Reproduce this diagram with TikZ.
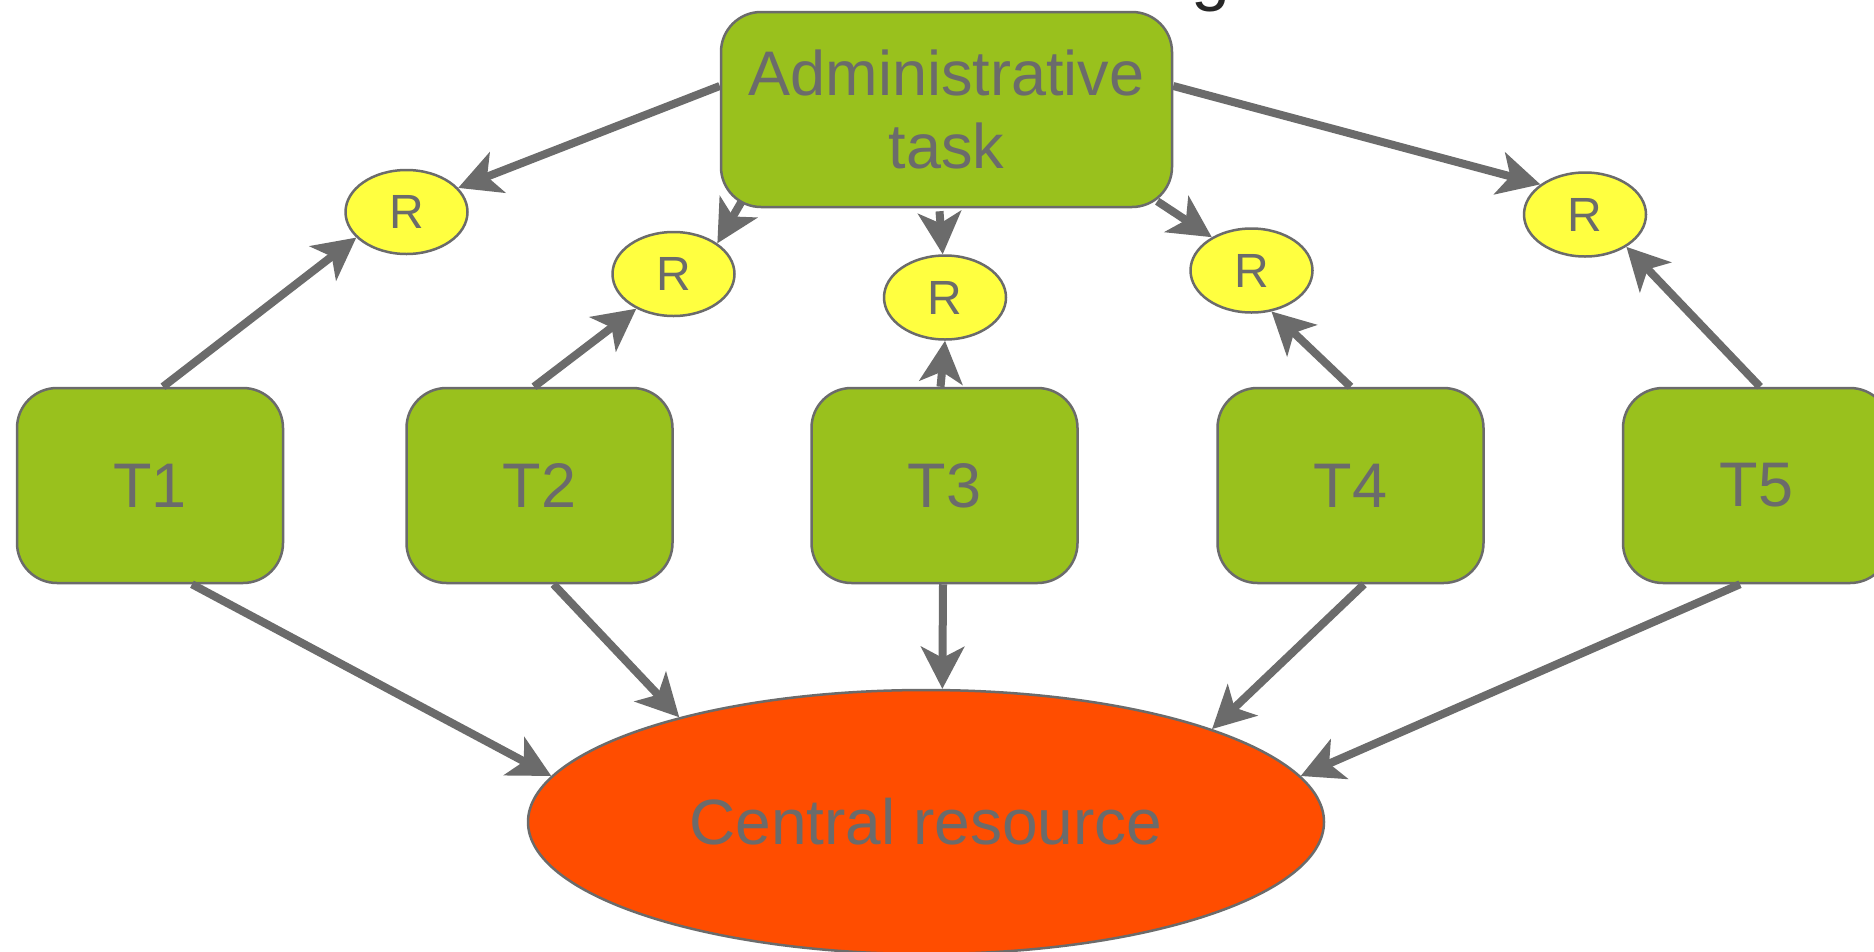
\documentclass[tikz,border=0pt]{standalone}
\usepackage{fontspec}
\setmainfont{Liberation Sans}
\usetikzlibrary{arrows.meta,shapes.geometric}
\definecolor{tgreen}{HTML}{99C11D}
\definecolor{ryellow}{HTML}{FFFF40}
\definecolor{corange}{HTML}{FF4D00}
\definecolor{dgray}{HTML}{6B6B6B}
\begin{document}
\begin{tikzpicture}[x=1pt,y=-1pt,
  task/.style={draw=dgray, line width=2.5pt, fill=tgreen, rounded corners=40pt,
    minimum width=266pt, minimum height=195pt, inner sep=0pt, text=dgray,
    font=\fontsize{63}{73}\selectfont},
  res/.style={ellipse, draw=dgray, line width=2.5pt, fill=ryellow,
    minimum width=122pt, minimum height=84pt, inner sep=0pt, text=dgray,
    font=\fontsize{48}{56}\selectfont},
  central/.style={ellipse, draw=dgray, line width=2.5pt, fill=corange,
    minimum width=796pt, minimum height=264pt, inner sep=0pt, text=dgray,
    font=\fontsize{64}{74}\selectfont},
  arr/.style={draw=dgray, line width=8pt,
    -{Stealth[length=42pt,width=43pt,inset=11pt]}}]
\useasboundingbox (0,0) rectangle (1874,951);
\fill[white] (0,0) rectangle (1874,951);
\node[text=black!85, font=\fontsize{70}{80}\selectfont, anchor=base] (ttl) at (1211,-3) {g};
% nodes
\node[task, minimum width=451pt, align=center] (A) at (946.5,109.5) {Administrative\\task};
\node[task] (T1) at (150,485.5) {T1};
\node[task] (T2) at (539.5,485.5) {T2};
\node[task] (T3) at (944.5,485.5) {T3};
\node[task] (T4) at (1350.5,485.5) {T4};
\node[task, minimum width=267pt] (T5) at (1756.5,485.5) {T5};
\node[res] (R1) at (406.5,212) {R};
\node[res] (R2) at (673.5,274) {R};
\node[res] (R3) at (945,297.5) {R};
\node[res] (R4) at (1251.5,270.5) {R};
\node[res] (R5) at (1585,214.5) {R};
\node[central] (C) at (926,822) {Central resource};
% arrows
\draw[arr] ([yshift=23.5pt]A.west) -- (R1.25);
\draw[arr] ([xshift=13pt]T1.north) -- (R1.207);
\draw[arr] ([xshift=22pt,yshift=7pt]A.south west) -- (R2.35);
\draw[arr] ([xshift=-5.5pt]T2.north) -- (R2.223);
\draw[arr] ([xshift=-7pt,yshift=-3pt]A.south) -- (R3.93);
\draw[arr] ([xshift=-4pt]T3.north) -- (R3.270);
\draw[arr] ([xshift=-16pt,yshift=7pt]A.south east) -- (R4.140);
\draw[arr] (T4.north) -- (R4.296);
\draw[arr] ([yshift=23.5pt]A.east) -- (R5.146);
\draw[arr] ([xshift=3.5pt]T5.north) -- (R5.322);
\draw[arr] ([xshift=42pt]T1.south) -- (C.173);
\draw[arr] ([xshift=14pt]T2.south) -- (C.157);
\draw[arr] ([xshift=-1.5pt]T3.south) -- (C.83);
\draw[arr] ([xshift=13.5pt]T4.south) -- (C.18);
\draw[arr] ([xshift=-16.5pt]T5.south) -- (C.7);
\end{tikzpicture}
\end{document}
